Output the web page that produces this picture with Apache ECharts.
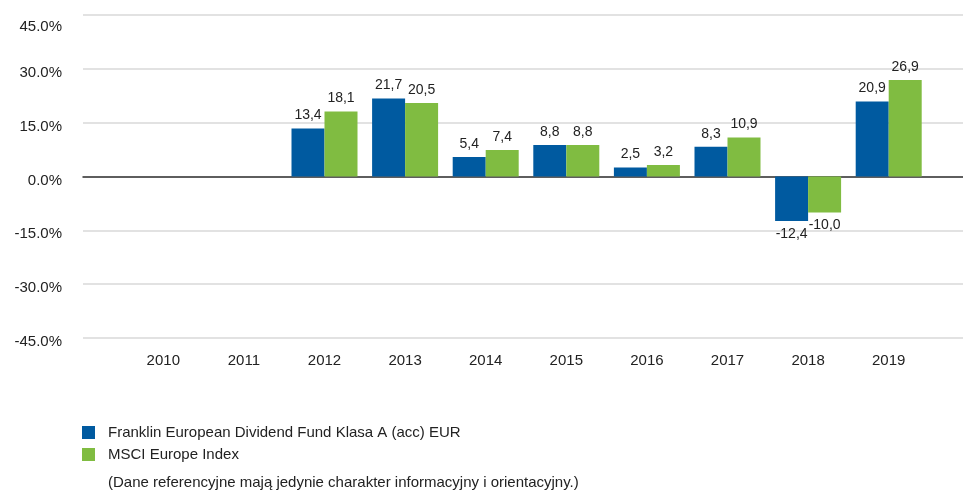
<!DOCTYPE html>
<html>
<head>
<meta charset="utf-8">
<script src="https://cdn.jsdelivr.net/npm/echarts@6/dist/echarts.min.js"></script>
<style>
    html, body { margin: 0; padding: 0; background: #fff; }
    #chart { width: 963px; height: 492px; }
</style>
</head>
<body>
<div id="chart"></div>
<script>
    // dane z wykresu
    const years = ['2010', '2011', '2012', '2013', '2014', '2015', '2016', '2017', '2018', '2019'];
    const fundValues = [null, null, 13.4, 21.7, 5.4, 8.8, 2.5, 8.3, -12.4, 20.9];
    const indexValues = [null, null, 18.1, 20.5, 7.4, 8.8, 3.2, 10.9, -10.0, 26.9];
    const seriesNames = ['Franklin European Dividend Fund Klasa A (acc) EUR', 'MSCI Europe Index'];
    const yTicks = [-45, -30, -15, 0, 15, 30, 45];
    const note = '(Dane referencyjne mają jedynie charakter informacyjny i orientacyjny.)';

    const FONT = '"Liberation Sans", Arial, sans-serif';
    const colors = ['#005AA0', '#80BC41'];

    const myChart = echarts.init(document.getElementById('chart'));

    // etykieta z przecinkiem
    function fmt(p) {
        return p.value == null ? '' : p.value.toFixed(1).replace('.', ',');
    }

    function makeData(vals) {
        return vals.map((v) => ({
            value: v,
            label: { position: v < 0 ? 'bottom' : 'top' },
        }));
    }

    const yMin = yTicks[0];
    const yMax = yTicks[yTicks.length - 1];
    const yStep = yTicks[1] - yTicks[0];

    const option = {
        animation: false,
        textStyle: { fontFamily: FONT },
        legend: {
            orient: 'vertical',
            left: 82,
            top: 425,
            padding: 0,
            itemWidth: 13,
            itemHeight: 13,
            itemGap: 7,
            icon: 'rect',
            textStyle: { fontFamily: FONT, fontSize: 15, color: '#222', padding: [0, 0, 0, 8] },
            data: seriesNames,
        },
        graphic: [
            {
                type: 'text',
                left: 108,
                top: 475,
                style: { text: note, font: '15px ' + FONT, fill: '#222' },
            },
        ],
        grid: [
            // szeroka siatka - linie pomocnicze
            { left: 83, right: 0, top: 15, bottom: 154 },
            // węższa siatka - słupki
            { left: 123, right: 34, top: 15, bottom: 154 },
        ],
        xAxis: [
            {
                gridIndex: 0,
                type: 'category',
                data: years,
                axisLine: { show: true, onZero: true, lineStyle: { color: '#333', width: 1.5 } },
                axisTick: { show: false },
                axisLabel: { show: false },
            },
            {
                gridIndex: 1,
                type: 'category',
                data: years,
                axisLine: { show: false, onZero: false },
                axisTick: { show: false },
                axisLabel: { fontSize: 15, color: '#222', margin: 15, fontFamily: FONT },
            },
        ],
        yAxis: [
            {
                gridIndex: 0,
                type: 'value',
                min: yMin,
                max: yMax,
                interval: yStep,
                axisLine: { show: false },
                axisTick: { show: false },
                splitLine: { lineStyle: { color: '#d9d9d9', width: 1.5 } },
                axisLabel: {
                    fontSize: 15,
                    color: '#222',
                    margin: 21,
                    fontFamily: FONT,
                    formatter: (v) => (v === yMax ? '{top|' : '{n|') + v.toFixed(1) + '%}',
                    rich: {
                        n: { fontSize: 15, color: '#222', padding: [8, 0, 0, 0] },
                        top: { fontSize: 15, color: '#222', padding: [24, 0, 0, 0] },
                    },
                },
            },
            {
                gridIndex: 1,
                type: 'value',
                min: yMin,
                max: yMax,
                interval: yStep,
                show: false,
            },
        ],
        series: [
            {
                name: seriesNames[0],
                type: 'bar',
                xAxisIndex: 1,
                yAxisIndex: 1,
                barWidth: 33,
                barGap: '0%',
                itemStyle: { color: colors[0] },
                label: { show: true, formatter: fmt, fontSize: 14, color: '#222', distance: 6, fontFamily: FONT },
                data: makeData(fundValues),
            },
            {
                name: seriesNames[1],
                type: 'bar',
                xAxisIndex: 1,
                yAxisIndex: 1,
                barWidth: 33,
                barGap: '0%',
                itemStyle: { color: colors[1] },
                label: { show: true, formatter: fmt, fontSize: 14, color: '#222', distance: 6, fontFamily: FONT },
                data: makeData(indexValues),
            },
        ],
    };

    myChart.setOption(option);
</script>
</body>
</html>
